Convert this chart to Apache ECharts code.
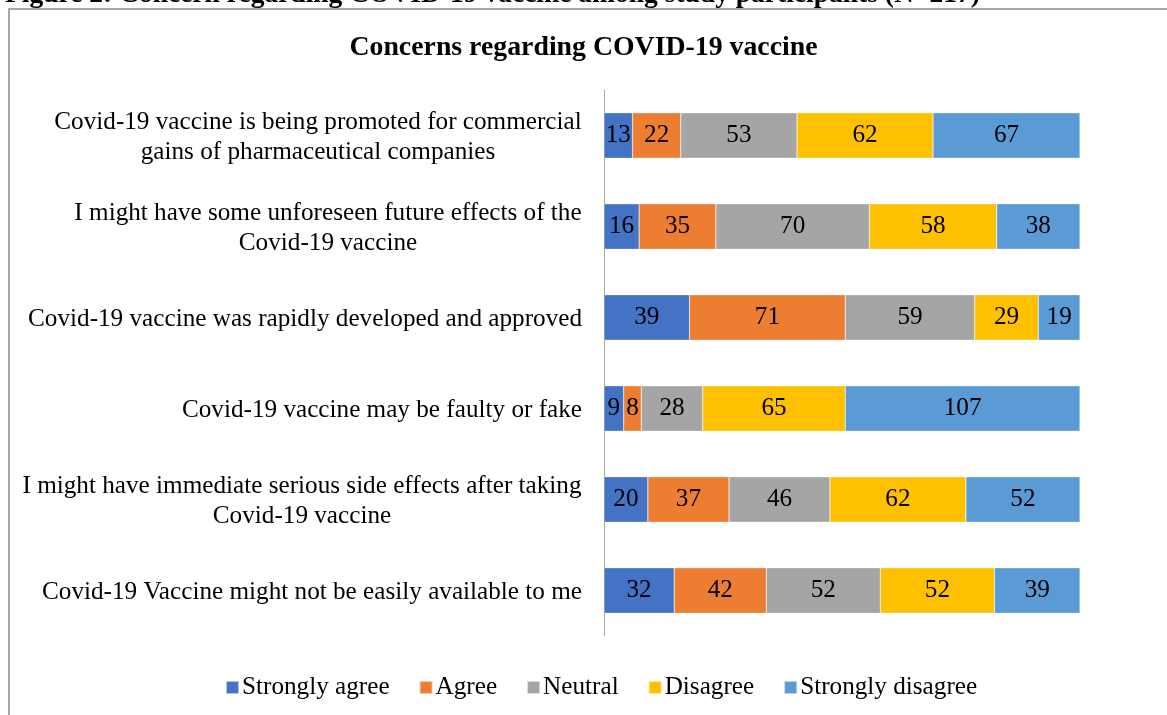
<!DOCTYPE html>
<html><head><meta charset="utf-8">
<script src="https://cdn.jsdelivr.net/npm/echarts@6/dist/echarts.min.js"></script>
<style>html,body{margin:0;padding:0;background:#fff}#c{width:1167px;height:715px}</style>
</head><body><div id="c"></div>
<script>
const categories = [
  "Covid-19 vaccine is being promoted for commercial\ngains of pharmaceutical companies",
  "I might have some unforeseen future effects of the\nCovid-19 vaccine",
  "Covid-19 vaccine was rapidly developed and approved",
  "Covid-19 vaccine may be faulty or fake",
  "I might have immediate serious side effects after taking\nCovid-19 vaccine",
  "Covid-19 Vaccine might not be easily available to me"
];
const seriesNames = ["Strongly agree", "Agree", "Neutral", "Disagree", "Strongly disagree"];
const stronglyAgree = [13, 16, 39, 9, 20, 32];
const agree = [22, 35, 71, 8, 37, 42];
const neutral = [53, 70, 59, 28, 46, 52];
const disagree = [62, 58, 29, 65, 62, 52];
const stronglyDisagree = [67, 38, 19, 107, 52, 39];
const total = 217;

const colors = ["#4472C4", "#ED7D31", "#A5A5A5", "#FFC000", "#5B9BD5"];
const FONT = '"Liberation Serif", "Times New Roman", serif';
const LSIZE = 25.2;

const ctx = document.createElement('canvas').getContext('2d');
ctx.font = LSIZE + 'px ' + FONT;
function blockW(lines) {
  return Math.ceil(Math.max.apply(null, lines.map(l => ctx.measureText(l).width)));
}
function fmtLabel(v) {
  const lines = v.split('\n');
  if (lines.length === 1) return v;
  const w = blockW(lines);
  return lines.map(l => '{c' + w + '|' + l + '}').join('\n');
}
const rich = {};
categories.forEach(v => {
  const lines = v.split('\n');
  if (lines.length > 1) {
    const w = blockW(lines);
    rich['c' + w] = { width: w, align: 'center', fontFamily: FONT, fontSize: LSIZE, color: '#000', lineHeight: 30 };
  }
});

const allData = [stronglyAgree, agree, neutral, disagree, stronglyDisagree];
const chart = echarts.init(document.getElementById('c'), null, { renderer: 'canvas' });
chart.setOption({
  animation: false,
  backgroundColor: '#fff',
  color: colors,
  title: {
    text: 'Concerns regarding COVID-19 vaccine',
    left: 'center', top: 29,
    textStyle: { fontFamily: FONT, fontSize: 27.8, fontWeight: 'bold', color: '#000' }
  },
  graphic: [
    { type: 'rect', shape: { x: 9, y: 9, width: 1200, height: 760 }, style: { fill: 'none', stroke: '#8c8c8c', lineWidth: 1.5 }, z: -1 },
    { type: 'text', left: 5, top: -19, style: { text: 'Figure 2: Concern regarding COVID-19 vaccine among study participants (N=217)', font: 'bold 27.5px ' + FONT, fill: '#000' } }
  ],
  legend: {
    bottom: 10, left: 220,
    itemWidth: 13, itemHeight: 13, itemGap: 29,
    icon: 'rect',
    textStyle: { fontFamily: FONT, fontSize: LSIZE, color: '#000', padding: [0, 0, 0, -2] },
    data: seriesNames
  },
  grid: { left: 604, right: 87, top: 90, bottom: 79 },
  xAxis: { type: 'value', min: 0, max: total, show: false },
  yAxis: {
    type: 'category', data: categories, inverse: true,
    axisLine: { show: true, lineStyle: { color: '#A6A6A6', width: 1 } },
    axisTick: { show: false },
    axisLabel: { margin: 22, color: '#000', fontFamily: FONT, fontSize: LSIZE, lineHeight: 30, padding: [4, 0, 0, 0], formatter: fmtLabel, rich: rich }
  },
  series: seriesNames.map((n, i) => ({
    name: n, type: 'bar', stack: 'total', barWidth: '50%',
    data: allData[i],
    itemStyle: { borderColor: 'rgba(255,255,255,0.6)', borderWidth: 0.5 },
    label: { show: true, position: 'inside', color: '#000', fontFamily: FONT, fontSize: LSIZE }
  }))
});
</script></body></html>
